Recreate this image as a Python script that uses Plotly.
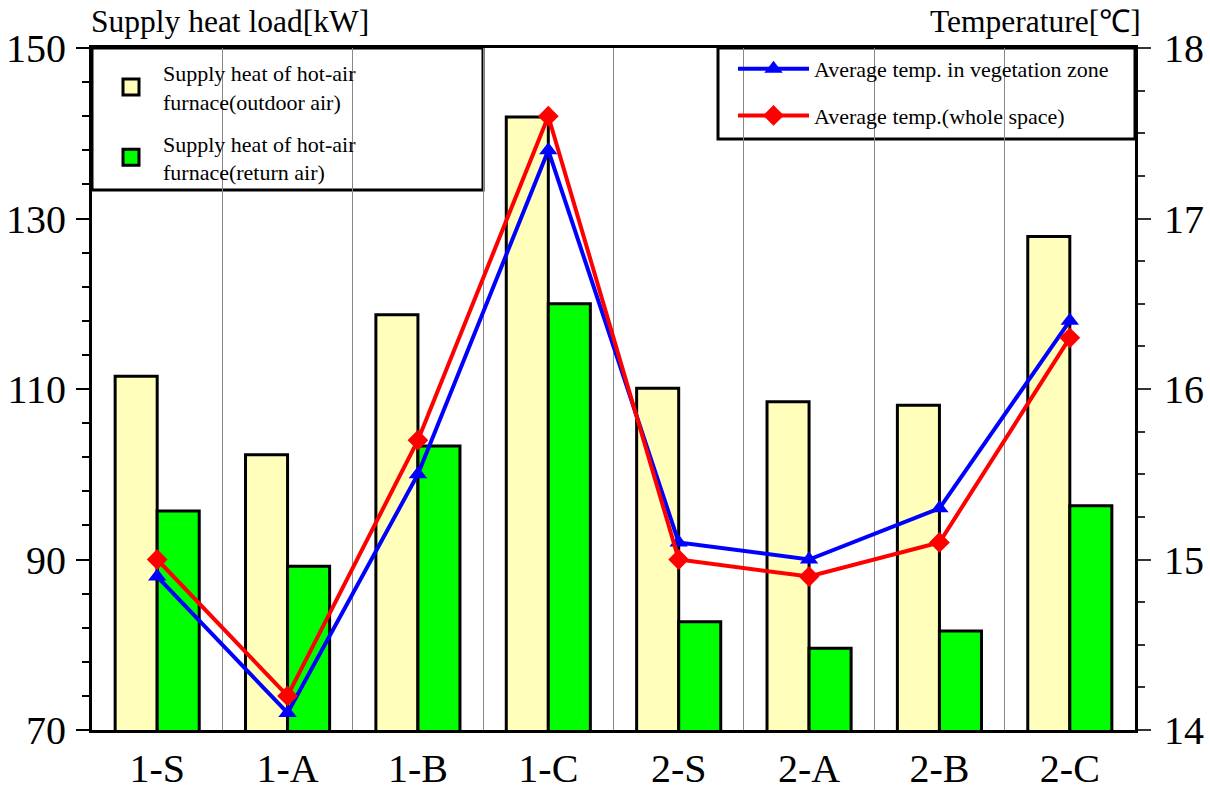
import plotly.graph_objects as go

categories = ["1-S", "1-A", "1-B", "1-C", "2-S", "2-A", "2-B", "2-C"]
heat_outdoor = [111.5, 102.3, 118.7, 141.9, 110.1, 108.5, 108.1, 127.9]
heat_return = [95.7, 89.2, 103.3, 120.0, 82.7, 79.6, 81.6, 96.3]
temp_vegetation = [14.9, 14.1, 15.5, 17.4, 15.1, 15.0, 15.3, 16.4]
temp_whole = [15.0, 14.2, 15.7, 17.6, 15.0, 14.9, 15.1, 16.3]

bar_names = ["Supply heat of hot-air<br>furnace(outdoor air)",
             "Supply heat of hot-air<br>furnace(return air)"]
bar_colors = ["#FFFFBB", "#00FF00"]

FONT = "Liberation Serif"

fig = go.Figure()
for vals, name, col in zip([heat_outdoor, heat_return], bar_names, bar_colors):
    fig.add_trace(go.Bar(
        x=categories, y=vals, name=name, showlegend=False,
        marker=dict(color=col, line=dict(color="black", width=3)),
    ))
# legend entries for the bars (larger square symbols)
for name, col in zip(bar_names, bar_colors):
    fig.add_trace(go.Scatter(
        x=[None], y=[None], mode="markers", name=name,
        marker=dict(symbol="square", size=16, color=col, line=dict(color="black", width=3)),
        legend="legend", legendgroup=name,
    ))
fig.add_trace(go.Scatter(
    x=categories, y=temp_vegetation, yaxis="y2", mode="lines+markers",
    name="Average temp. in vegetation zone",
    line=dict(color="#0000FF", width=4),
    marker=dict(symbol="triangle-up", size=16, color="#0000FF"),
    legend="legend2", legendgroup="c",
))
fig.add_trace(go.Scatter(
    x=categories, y=temp_whole, yaxis="y2", mode="lines+markers",
    name="Average temp.(whole space)",
    line=dict(color="#FF0000", width=4),
    marker=dict(symbol="diamond", size=16, color="#FF0000"),
    legend="legend2", legendgroup="d",
))

W, H = 1210, 796
PL, PR, PT, PB = 92, 1135, 48, 730          # intended plot-area edges on the page
L, R, T, B = PL, W - PR, PT, H - PB
pw, ph = W - L - R, H - T - B

def px(xp):  # page x (px) -> paper
    return (xp - PL) / pw

def py(yp):  # page y (px) -> paper
    return (PB - yp) / ph

fig.update_layout(
    width=W, height=H,
    margin=dict(l=L, r=R, t=T, b=B, pad=0, autoexpand=False),
    paper_bgcolor="white", plot_bgcolor="white",
    font=dict(family=FONT, color="black", size=22),
    barmode="group", bargap=0.355, bargroupgap=0,
    showlegend=True,
    xaxis=dict(
        type="category", tickson="boundaries", showgrid=True,
        gridcolor="#888888", gridwidth=1, automargin=False,
        showline=True, linecolor="black", linewidth=3, mirror=True,
        ticks="", tickfont=dict(size=40, family=FONT), ticklabelstandoff=1,
        zeroline=False,
    ),
    yaxis=dict(
        range=[70, 150], dtick=20, tick0=70, showgrid=False, zeroline=False,
        showline=True, linecolor="black", linewidth=3, automargin=False,
        ticks="outside", ticklen=13, tickwidth=2, tickcolor="black",
        minor=dict(dtick=4, tick0=70, ticks="outside", ticklen=7, tickwidth=2, tickcolor="black", showgrid=False),
        tickfont=dict(size=40, family=FONT), ticklabelstandoff=2,
    ),
    yaxis2=dict(
        range=[14, 18], dtick=1, tick0=14, overlaying="y", side="right",
        showgrid=False, zeroline=False, automargin=False,
        showline=True, linecolor="black", linewidth=3,
        ticks="outside", ticklen=13, tickwidth=2, tickcolor="#333333",
        minor=dict(dtick=0.25, tick0=14, ticks="outside", ticklen=7, tickwidth=2, tickcolor="#333333", showgrid=False),
        tickfont=dict(size=40, family=FONT), ticklabelstandoff=5,
    ),
    legend=dict(
        x=px(99), y=py(52), xanchor="left", yanchor="top",
        bgcolor="rgba(0,0,0,0)", borderwidth=0,
        font=dict(size=22, family=FONT), tracegroupgap=10,
        valign="middle", itemwidth=54,
    ),
    legend2=dict(
        x=px(733), y=py(48), xanchor="left", yanchor="top",
        bgcolor="rgba(0,0,0,0)", borderwidth=0,
        font=dict(size=22, family=FONT), tracegroupgap=15,
        itemwidth=71,
    ),
    shapes=[
        dict(type="rect", xref="paper", yref="paper", x0=0, x1=px(483), y0=py(190), y1=1,
             line=dict(color="black", width=3), fillcolor="white", layer="between"),
        dict(type="rect", xref="paper", yref="paper", x0=px(718), x1=1, y0=py(139), y1=1,
             line=dict(color="black", width=3), fillcolor="white", layer="between"),
    ],
    annotations=[
        dict(text="Supply heat load[kW]", xref="paper", yref="paper", x=px(89), y=1,
             xanchor="left", yanchor="bottom", yshift=7, showarrow=False,
             font=dict(size=31.5, family=FONT)),
        dict(text="Temperature[℃]", xref="paper", yref="paper", x=px(1143), y=1,
             xanchor="right", yanchor="bottom", yshift=7, showarrow=False,
             font=dict(size=31.5, family=FONT)),
    ],
)

# remove the page's default 8px body margin so the 1210x796 figure fills the window exactly
fig.write_html(
    "out.html",
    config={"displayModeBar": False},
    post_script="document.body.style.margin='0';document.body.style.overflow='hidden';",
)
